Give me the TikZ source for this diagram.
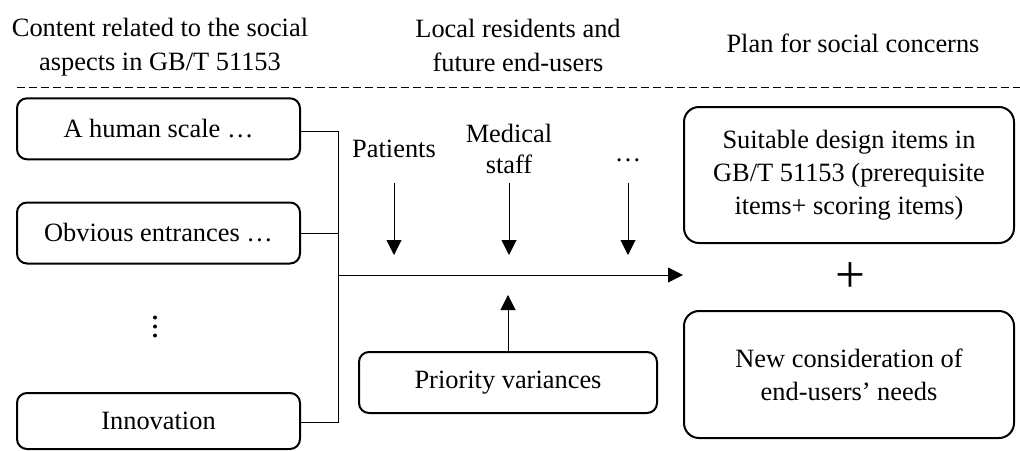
\documentclass[tikz,border=0pt]{standalone}
\usepackage{fontspec}
\setmainfont{Liberation Serif}
\usetikzlibrary{arrows.meta}
\begin{document}
\begin{tikzpicture}[x=1pt,y=-1pt,
  every node/.style={font=\fontsize{26.4}{33}\selectfont, inner sep=0pt},
  heading/.style={align=center, font=\fontsize{26.4}{34}\selectfont},
  srcbox/.style={draw, line width=2pt, rounded corners=10pt, minimum width=283pt, minimum height=61pt},
  planbox/.style={draw, line width=2pt, rounded corners=15pt, minimum width=330pt, align=center},
  link/.style={line width=1pt},
  arr/.style={line width=1pt, -{Triangle[length=15pt,width=15pt]}},
  sep/.style={line width=1pt, dash pattern=on 8pt off 4pt},
  dot/.style={fill, circle, inner sep=0pt, minimum size=4pt}
]
\useasboundingbox (0,0) rectangle (1020,450);

% column headings and separator
\node[heading] (hsrc) at (160,47.4) {Content related to the social\\aspects in GB/T 51153};
\node[heading] (husr) at (518,45) {Local residents and\\future end-users};
\node[anchor=base] (hplan) at (853,52) {Plan for social concerns};
\draw[sep] (17,87) -- (1020,87);

% social aspects of the standard
\node[srcbox] (b1) at (158.5,128.8) {A human scale …};
\node[srcbox] (b2) at (158.5,233) {Obvious entrances …};
\node[srcbox, minimum height=56pt] (b3) at (158.5,421) {Innovation};
\node[dot] (v1) at (155,317.5) {};
\node[dot] (v2) at (155,326.5) {};
\node[dot] (v3) at (155,335.5) {};

% merging into the main flow
\coordinate (j) at (338,275);
\draw[link] ([yshift=-3pt]b1.east) -| (j);
\draw[link] (b2.east) -| (j);
\draw[link] ([yshift=-1.5pt]b3.east) -| (j);

% resulting plan
\node[planbox, minimum height=136pt] (r1) at (849,175) {Suitable design items in\\GB/T 51153 (prerequisite\\items+ scoring items)};
\node[planbox, minimum height=127pt] (r2) at (849,374.5) {New consideration of\\end-users’ needs};
\node[font=\fontsize{53}{53}\selectfont] (plus) at (850,278) {+};
\draw[arr] (j) -- (r1.west |- j);

% end-users feeding in from above
\node[anchor=base] (pat) at (394,157) {Patients};
\node[align=center, font=\fontsize{26.4}{31}\selectfont] (med) at (509,148.5) {Medical\\staff};
\node[anchor=base] (more) at (628,161) {…};
\coordinate (dtop) at (0,183);
\coordinate (dtip) at (0,255);
\draw[arr] (pat |- dtop) -- (pat |- dtip);
\draw[arr] (med |- dtop) -- (med |- dtip);
\draw[arr] (more |- dtop) -- (more |- dtip);

% priorities feeding in from below
\node[srcbox, minimum width=298pt] (pv) at (508,382.5) {Priority variances};
\coordinate (uptip) at (508,295);
\draw[arr] (pv.north) -- (uptip);
\end{tikzpicture}
\end{document}
